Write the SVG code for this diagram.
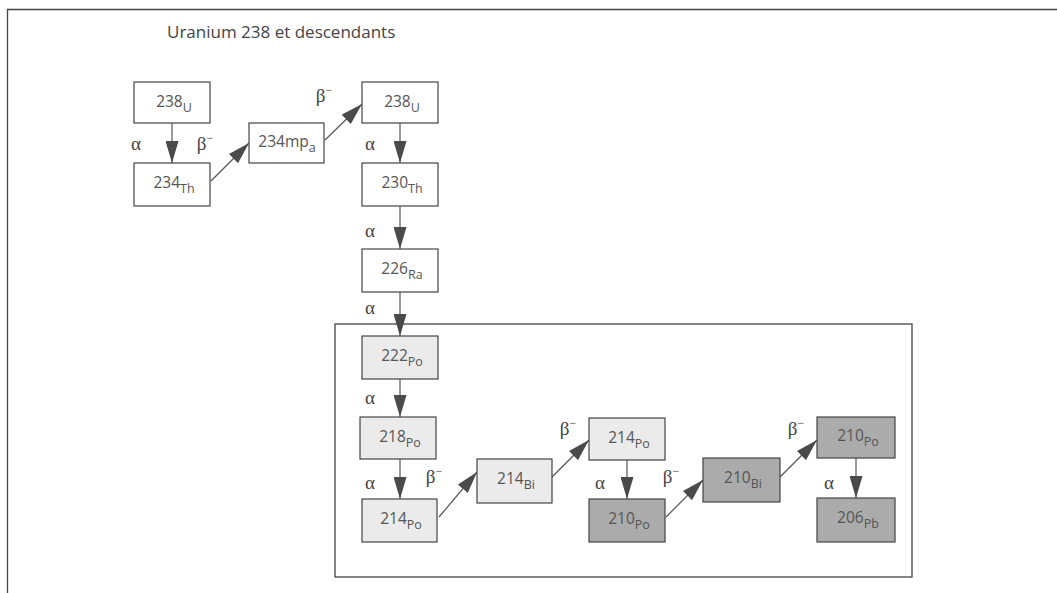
<svg xmlns="http://www.w3.org/2000/svg" width="1057" height="593" viewBox="0 0 1057 593">
<style>
.box{stroke:#444;stroke-width:1.2}
.w{fill:#fff}.l{fill:#ebebeb}.d{fill:#ababab}
.lab{font-family:"Open Sans","Liberation Sans",sans-serif;font-size:15.5px;fill:#555;text-anchor:middle}
.sub{font-size:12.5px}
.g{font-family:"Liberation Serif",serif;font-size:19px;fill:#444;text-anchor:middle}
.sup{font-size:12px}
.title{font-family:"Open Sans","Liberation Sans",sans-serif;font-size:17px;fill:#444}
.con{stroke:#555;stroke-width:1.2;fill:none;marker-end:url(#ah)}
.frame{stroke:#444;stroke-width:1.3;fill:none}
</style>
<defs>
<marker id="ah" markerUnits="userSpaceOnUse" markerWidth="22" markerHeight="13" refX="22" refY="6.5" orient="auto">
<path d="M0,0 L22,6.5 L0,13 Z" fill="#4a4a4a"/>
</marker>
</defs>
<rect width="1057" height="593" fill="#fff"/>
<path class="frame" d="M1057,9.5 H7.5 V593"/>
<rect class="frame" x="335" y="324" width="577" height="253"/>
<text class="title" x="167" y="38">Uranium 238 et descendants</text>

<g id="connectors">
<line class="con" x1="172" y1="123" x2="172" y2="163"/>
<line class="con" x1="211" y1="181" x2="249" y2="143"/>
<line class="con" x1="325" y1="140" x2="362" y2="104"/>
<line class="con" x1="400" y1="123" x2="400" y2="163"/>
<line class="con" x1="400" y1="206" x2="400" y2="249"/>
<line class="con" x1="400" y1="292" x2="400" y2="336"/>
<line class="con" x1="400" y1="379" x2="400" y2="417"/>
<line class="con" x1="400" y1="459" x2="400" y2="499"/>
<line class="con" x1="439" y1="517" x2="477" y2="472"/>
<line class="con" x1="552" y1="477" x2="589" y2="440"/>
<line class="con" x1="627" y1="460" x2="627" y2="499"/>
<line class="con" x1="666" y1="517" x2="703" y2="480"/>
<line class="con" x1="780" y1="477" x2="817" y2="440"/>
<line class="con" x1="856" y1="458" x2="856" y2="498"/>
</g>

<g id="labels">
<text class="g" x="136" y="150">α</text>
<text class="g" x="205" y="150">β<tspan class="sup" dy="-8">−</tspan></text>
<text class="g" x="324" y="102">β<tspan class="sup" dy="-8">−</tspan></text>
<text class="g" x="370" y="150">α</text>
<text class="g" x="370" y="237">α</text>
<text class="g" x="370" y="314">α</text>
<text class="g" x="370" y="404">α</text>
<text class="g" x="370" y="489">α</text>
<text class="g" x="434" y="483">β<tspan class="sup" dy="-8">−</tspan></text>
<text class="g" x="568" y="435">β<tspan class="sup" dy="-8">−</tspan></text>
<text class="g" x="600" y="489">α</text>
<text class="g" x="671" y="483">β<tspan class="sup" dy="-8">−</tspan></text>
<text class="g" x="796" y="435">β<tspan class="sup" dy="-8">−</tspan></text>
<text class="g" x="829" y="489">α</text>
</g>

<g id="n238U"><rect class="box w" x="134" y="82" width="76" height="41"/><text class="lab" x="174" y="107">238<tspan class="sub" dy="5">U</tspan></text></g>
<g id="n234Th"><rect class="box w" x="134" y="163" width="76" height="43"/><text class="lab" x="174" y="188">234<tspan class="sub" dy="5">Th</tspan></text></g>
<g id="n234mPa"><rect class="box w" x="249" y="123" width="75" height="40"/><text class="lab" x="287" y="147">234mp<tspan class="sub" dy="5">a</tspan></text></g>
<g id="n238U2"><rect class="box w" x="362" y="82" width="76" height="41"/><text class="lab" x="402" y="107">238<tspan class="sub" dy="5">U</tspan></text></g>
<g id="n230Th"><rect class="box w" x="362" y="163" width="76" height="43"/><text class="lab" x="402" y="188">230<tspan class="sub" dy="5">Th</tspan></text></g>
<g id="n226Ra"><rect class="box w" x="362" y="249" width="76" height="43"/><text class="lab" x="402" y="274">226<tspan class="sub" dy="5">Ra</tspan></text></g>
<g id="n222Po"><rect class="box l" x="362" y="336" width="76" height="43"/><text class="lab" x="402" y="361">222<tspan class="sub" dy="5">Po</tspan></text></g>
<g id="n218Po"><rect class="box l" x="360" y="417" width="76" height="42"/><text class="lab" x="400" y="442">218<tspan class="sub" dy="5">Po</tspan></text></g>
<g id="n214Po"><rect class="box l" x="362" y="499" width="75" height="43"/><text class="lab" x="401" y="524">214<tspan class="sub" dy="5">Po</tspan></text></g>
<g id="n214Bi"><rect class="box l" x="477" y="459" width="75" height="44"/><text class="lab" x="516" y="484">214<tspan class="sub" dy="5">Bi</tspan></text></g>
<g id="n214Po2"><rect class="box l" x="589" y="418" width="76" height="42"/><text class="lab" x="629" y="443">214<tspan class="sub" dy="5">Po</tspan></text></g>
<g id="n210Po"><rect class="box d" x="589" y="499" width="76" height="43"/><text class="lab" x="629" y="524">210<tspan class="sub" dy="5">Po</tspan></text></g>
<g id="n210Bi"><rect class="box d" x="703" y="458" width="77" height="44"/><text class="lab" x="743" y="483">210<tspan class="sub" dy="5">Bi</tspan></text></g>
<g id="n210Po2"><rect class="box d" x="817" y="417" width="78" height="41"/><text class="lab" x="858" y="441">210<tspan class="sub" dy="5">Po</tspan></text></g>
<g id="n206Pb"><rect class="box d" x="817" y="498" width="78" height="44"/><text class="lab" x="858" y="523">206<tspan class="sub" dy="5">Pb</tspan></text></g>
</svg>
